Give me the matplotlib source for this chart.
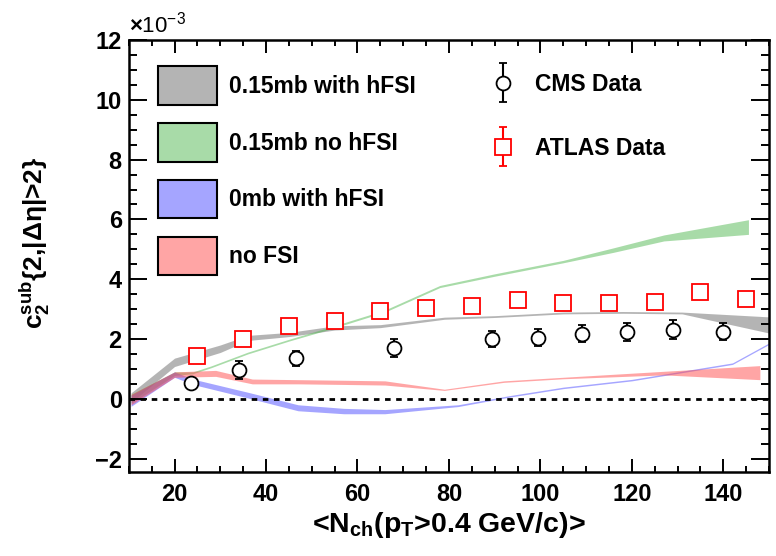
import matplotlib
matplotlib.use("Agg")
import matplotlib.pyplot as plt
from matplotlib.colors import to_rgba
from matplotlib.legend_handler import HandlerErrorbar
from matplotlib.patches import Patch
from matplotlib.ticker import MultipleLocator

plt.rcParams["font.family"] = ["Liberation Sans", "DejaVu Sans"]
plt.rcParams["font.weight"] = "bold"
plt.rcParams["mathtext.fontset"] = "custom"
plt.rcParams["mathtext.rm"] = "Liberation Sans:bold"
plt.rcParams["mathtext.it"] = "Liberation Sans:bold"
plt.rcParams["mathtext.bf"] = "Liberation Sans:bold"

# ---- data (units of 1e-3) ----
cms_x = [23.5, 34, 46.5, 68, 89.5, 99.5, 109, 119, 129, 140]
cms_y = [0.53, 0.95, 1.35, 1.7, 2.0, 2.05, 2.18, 2.22, 2.31, 2.24]
cms_err = [0.18, 0.3, 0.25, 0.3, 0.28, 0.28, 0.28, 0.3, 0.32, 0.28]

atlas_x = [25, 35, 45, 55, 65, 75, 85, 95, 105, 115, 125, 135, 145]
atlas_y = [1.42, 2.0, 2.45, 2.6, 2.93, 3.05, 3.09, 3.29, 3.22, 3.22, 3.25, 3.57, 3.33]
atlas_err = [0.05, 0.05, 0.05, 0.05, 0.05, 0.05, 0.05, 0.05, 0.05, 0.05, 0.05, 0.05, 0.05]

gray_x = [10.5, 20, 30, 36, 45, 55, 65, 79, 90, 105, 118, 131, 150]
gray_lo = [-0.12, 1.08, 1.55, 1.95, 2.08, 2.3, 2.38, 2.66, 2.72, 2.84, 2.86, 2.84, 2.2]
gray_hi = [0.2, 1.36, 1.8, 2.12, 2.22, 2.44, 2.48, 2.73, 2.78, 2.9, 2.92, 2.9, 2.74]

green_x = [10.5, 20, 24, 28, 36, 45, 54, 66, 78, 90, 105, 116, 127, 145.5]
green_lo = [-0.15, 0.78, 0.84, 1.04, 1.5, 1.93, 2.33, 2.9, 3.72, 4.1, 4.55, 4.9, 5.28, 5.5]
green_hi = [0.15, 0.9, 0.9, 1.1, 1.56, 1.99, 2.4, 2.97, 3.79, 4.18, 4.63, 5.05, 5.48, 5.99]

blue_x = [10.5, 20, 24, 36, 47, 57, 66, 82, 93, 105, 120, 142, 150]
blue_lo = [-0.25, 0.72, 0.48, 0.03, -0.4, -0.5, -0.5, -0.26, 0.05, 0.34, 0.6, 1.15, 1.82]
blue_hi = [0.12, 0.9, 0.66, 0.22, -0.2, -0.32, -0.36, -0.2, 0.1, 0.39, 0.65, 1.2, 1.87]

red_x = [10.5, 20, 29, 37, 47, 57, 66, 79, 92, 105, 127, 148]
red_lo = [-0.2, 0.72, 0.75, 0.5, 0.5, 0.48, 0.46, 0.28, 0.55, 0.67, 0.8, 0.64]
red_hi = [0.15, 0.9, 0.95, 0.66, 0.64, 0.62, 0.6, 0.32, 0.6, 0.72, 0.92, 1.11]

bands = [
    ("0.15mb with hFSI", gray_x, gray_lo, gray_hi, (0.42, 0.42, 0.42)),
    ("0.15mb no hFSI", green_x, green_lo, green_hi, (0.32, 0.72, 0.32)),
    ("0mb with hFSI", blue_x, blue_lo, blue_hi, (0.3, 0.3, 1.0)),
    ("no FSI", red_x, red_lo, red_hi, (1.0, 0.3, 0.3)),
]

fig = plt.figure(figsize=(7.76, 5.56), dpi=100)
ax = fig.add_axes([0.166, 0.151, 0.825, 0.777])

band_handles = []
for label, bx, lo, hi, color in bands:
    ax.fill_between(bx, lo, hi, color=color, alpha=0.5, linewidth=0)
    band_handles.append(Patch(facecolor=to_rgba(color, 0.5), edgecolor="black",
                              linewidth=1.5, label=label))

ax.axhline(0, color="black", linestyle=(0, (2, 2)), linewidth=2, zorder=2)

cms = ax.errorbar(cms_x, cms_y, yerr=cms_err, fmt="o", mfc="white", mec="black",
                  mew=1.3, ms=10, color="black", ecolor="black", elinewidth=1.5,
                  capsize=3, capthick=2, zorder=5, label="CMS Data")
atlas = ax.errorbar(atlas_x, atlas_y, yerr=atlas_err, fmt="s", mfc="white",
                    mec="red", mew=1.3, ms=11, color="red", ecolor="red",
                    elinewidth=1.5, capsize=3, capthick=2, zorder=5,
                    label="ATLAS Data")

ax.set_xlim(10, 150)
ax.set_ylim(-2.45, 12)
ax.xaxis.set_major_locator(MultipleLocator(20))
ax.xaxis.set_minor_locator(MultipleLocator(5))
ax.yaxis.set_major_locator(MultipleLocator(2))
ax.yaxis.set_minor_locator(MultipleLocator(0.5))
ax.tick_params(axis="both", which="both", direction="in", top=True, right=True,
               width=1.4, labelsize=17)
ax.tick_params(axis="x", which="major", length=9.5, pad=8)
ax.tick_params(axis="x", which="minor", length=4.5)
ax.tick_params(axis="y", which="major", length=13, pad=5)
ax.tick_params(axis="y", which="minor", length=6)
ax.set_xticks(ax.get_xticks())
ax.set_xticklabels(["" if t < 20 or t > 140 else f"{int(t)}" for t in ax.get_xticks()])
ax.set_xlim(10, 150)
ax.set_yticks(ax.get_yticks())
ax.set_yticklabels([f"{int(t)}".replace("-", "\u2212") for t in ax.get_yticks()])
ax.set_ylim(-2.45, 12)
for s in ax.spines.values():
    s.set_linewidth(1.8)

ax.set_xlabel(r"<N$_{\mathrm{ch}}$(p$_{\mathrm{T}}$>0.4 GeV/c)>", fontsize=20.5,
              fontweight="bold", labelpad=3)
ax.set_ylabel(r"c$_{2}^{\mathrm{sub}}${2,|Δη|>2}", fontsize=19, fontweight="bold")
ax.yaxis.set_label_coords(-0.12, 0.53)
ax.text(0.0, 1.005, r"$\times$10$^{\mathregular{-3}}$", transform=ax.transAxes,
        fontsize=16, fontweight="normal", ha="left", va="bottom")

leg1 = ax.legend(handles=band_handles, loc="upper left", bbox_to_anchor=(0.031, 0.96),
                 frameon=False, fontsize=16.5, handlelength=2.6, handleheight=2.2,
                 labelspacing=0.8, handletextpad=0.52, borderaxespad=0)
ax.add_artist(leg1)
ax.legend(handles=[cms, atlas], loc="upper left", bbox_to_anchor=(0.547, 0.946),
          frameon=False, fontsize=16.5, handlelength=1.3, handletextpad=0.75,
          labelspacing=1.8, borderaxespad=0,
          handler_map={type(cms): HandlerErrorbar(yerr_size=0.85)})

fig.savefig("out.png", dpi=100)
